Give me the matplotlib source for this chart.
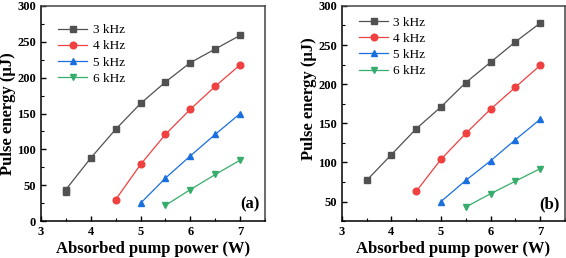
import matplotlib.pyplot as plt
from matplotlib.ticker import MultipleLocator

plt.rcParams['font.family'] = ['Liberation Serif', 'DejaVu Serif']

labels = ['3 kHz', '4 kHz', '5 kHz', '6 kHz']
colors = ['#515151', '#F14040', '#1A6FDF', '#37AD6B']
markers = ['s', 'o', '^', 'v']

# panel (a)
xa = [[3.5, 3.5, 4, 4.5, 5, 5.5, 6, 6.5, 7],
      [4.5, 5, 5.5, 6, 6.5, 7],
      [5, 5.5, 6, 6.5, 7],
      [5.5, 6, 6.5, 7]]
ya = [[40, 44, 88, 128, 164, 194, 221, 240, 259],
      [30, 79, 121, 156, 188, 218],
      [25, 60, 91, 121, 150],
      [22, 44, 65, 85]]

# panel (b)
xb = [[3.5, 4, 4.5, 5, 5.5, 6, 6.5, 7],
      [4.5, 5, 5.5, 6, 6.5, 7],
      [5, 5.5, 6, 6.5, 7],
      [5.5, 6, 6.5, 7]]
yb = [[77, 110, 143, 171, 202, 228, 254, 278],
      [63, 104, 137, 168, 196, 224],
      [50, 77, 102, 129, 155],
      [43, 60, 76, 92]]

fig = plt.figure(figsize=(5.66, 2.58), dpi=100)
ax1 = fig.add_axes([0.0724, 0.143, 0.396, 0.834])
ax2 = fig.add_axes([0.604, 0.143, 0.394, 0.834])


def draw(ax, xs, ys, ylim, tag, leg_y, lab_xy):
    for x, y, c, m, l in zip(xs, ys, colors, markers, labels):
        ax.plot(x, y, color=c, marker=m, markersize=4.8, linewidth=0.9, label=l)
    ax.set_xlim(3, 7.5)
    ax.set_ylim(*ylim)
    ax.xaxis.set_major_locator(MultipleLocator(1))
    ax.xaxis.set_minor_locator(MultipleLocator(0.5))
    ax.yaxis.set_major_locator(MultipleLocator(50))
    ax.yaxis.set_minor_locator(MultipleLocator(25))
    ax.tick_params(which='both', direction='in', labelsize=9)
    ax.tick_params(which='major', length=3.5, width=1)
    ax.tick_params(which='minor', length=2, width=0.8)
    for t in ax.get_xticklabels() + ax.get_yticklabels():
        t.set_fontweight('bold')
    for s in ax.spines.values():
        s.set_linewidth(1.1)
    ax.spines['top'].set_color('#444444')
    ax.spines['right'].set_color('#444444')
    ax.set_xlabel('Absorbed pump power (W)', fontsize=12, fontweight='bold', labelpad=2)
    ax.set_ylabel('Pulse energy (\u03bcJ)', fontsize=12, fontweight='bold')
    ax.yaxis.set_label_coords(*lab_xy)
    ax.text(0.975, 0.04, tag, transform=ax.transAxes, ha='right', va='bottom',
            fontsize=12, fontweight='bold')
    ax.legend(loc='upper left', frameon=False, fontsize=9.5, handlelength=2.2,
              handletextpad=0.4, borderaxespad=0.4, labelspacing=0.3,
              bbox_to_anchor=(0.03, leg_y))


draw(ax1, xa, ya, (0, 300), '(a)', 0.965, (-0.113, 0.5))
draw(ax2, xb, yb, (25, 300), '(b)', 1.0, (-0.11, 0.57))

fig.savefig('out.png', dpi=100)
